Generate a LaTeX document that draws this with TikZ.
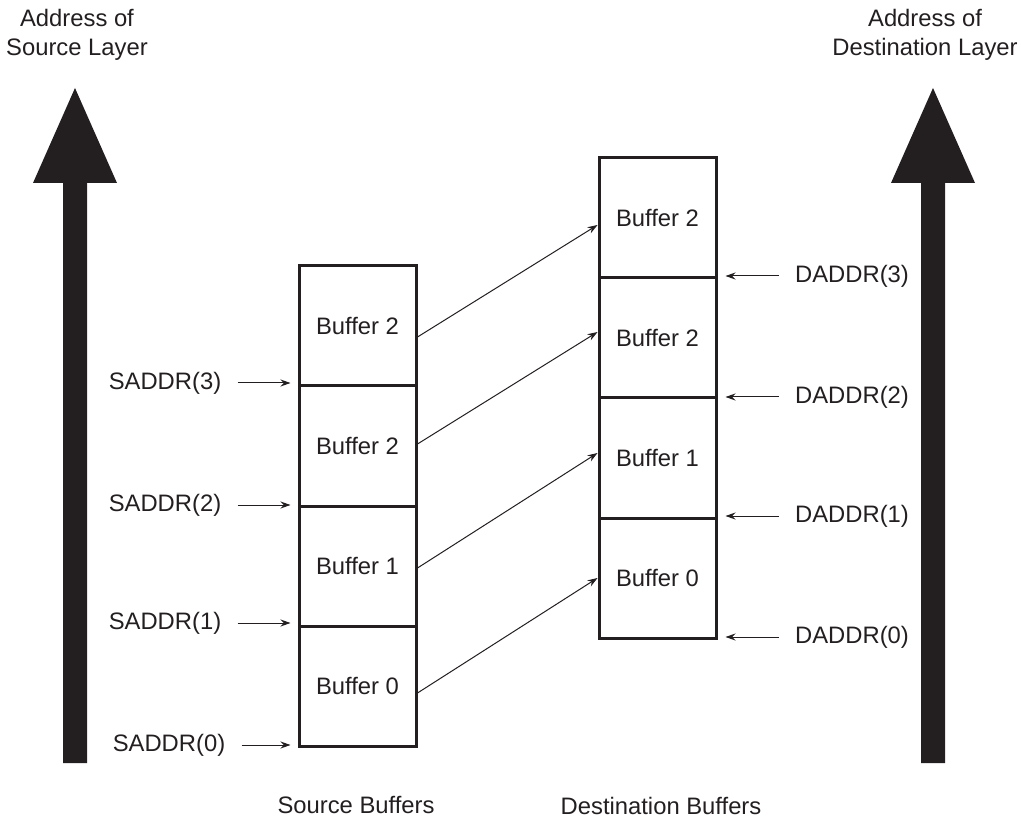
\documentclass[tikz,border=0pt]{standalone}
\usepackage{fontspec}
\setmainfont{Liberation Sans}
\usetikzlibrary{arrows.meta}

\definecolor{ink}{RGB}{35,31,32}

\begin{document}
\begin{tikzpicture}[x=0.5pt, y=-0.5pt,
  every node/.style={text=ink, font=\fontsize{11.9}{14.5}\selectfont},
  buf/.style={draw=ink, line width=1.5pt, rectangle, inner sep=0pt, minimum width=58.5pt, minimum height=60pt},
  link/.style={draw=ink, line width=0.5pt, -{Stealth[length=5pt, width=3.5pt]}},
  addr/.style={inner sep=0pt}]
\useasboundingbox (0,0) rectangle (1021,817);

% big address arrows
\fill[ink] (63,763) -- (63,183) -- (33,183) -- (75,88) -- (117,183) -- (87,183) -- (87,763) -- cycle;
\fill[ink] (921,763) -- (921,183) -- (891,183) -- (933,88) -- (975,183) -- (945,183) -- (945,763) -- cycle;
\node[align=center] (SL) at (77,35) {Address of\\Source Layer};
\node[align=center] (DL) at (925,35) {Address of\\Destination Layer};

% source buffers
\node[buf] (S3) at (357.5,326) {Buffer 2};
\node[buf] (S2) at (357.5,446) {Buffer 2};
\node[buf] (S1) at (357.5,566) {Buffer 1};
\node[buf] (S0) at (357.5,686) {Buffer 0};

% destination buffers
\node[buf] (D3) at (657.5,218) {Buffer 2};
\node[buf] (D2) at (657.5,338) {Buffer 2};
\node[buf] (D1) at (657.5,458) {Buffer 1};
\node[buf] (D0) at (657.5,578) {Buffer 0};

\draw[link] ([yshift=-5.5pt]S3.east) -- ([yshift=-3.5pt]D3.west);
\draw[link] ([yshift=1pt]S2.east) -- ([yshift=3pt]D2.west);
\draw[link] ([yshift=-1pt]S1.east) -- ([yshift=2.5pt]D1.west);
\draw[link] ([yshift=-3.5pt]S0.east) -- (D0.west);

% source addresses
\node[addr] (SA3) at (165,383) {SADDR(3)};
\node[addr] (SA2) at (165,505) {SADDR(2)};
\node[addr] (SA1) at (165,623) {SADDR(1)};
\node[addr] (SA0) at (169,745) {SADDR(0)};
\foreach \i in {0,...,3}
  \draw[link, shorten <=8pt, shorten >=3.5pt] (SA\i.east) -- (SA\i.east -| S\i.west);

% destination addresses
\node[addr] (DA3) at (852,276) {DADDR(3)};
\node[addr] (DA2) at (852,397) {DADDR(2)};
\node[addr] (DA1) at (852,516) {DADDR(1)};
\node[addr] (DA0) at (852,637) {DADDR(0)};
\foreach \i in {0,...,3}
  \draw[link, shorten <=8pt, shorten >=4pt] (DA\i.west) -- (DA\i.west -| D\i.east);

\node (SB) at (356,805) {Source Buffers};
\node (DB) at (661,806) {Destination Buffers};
\end{tikzpicture}
\end{document}
